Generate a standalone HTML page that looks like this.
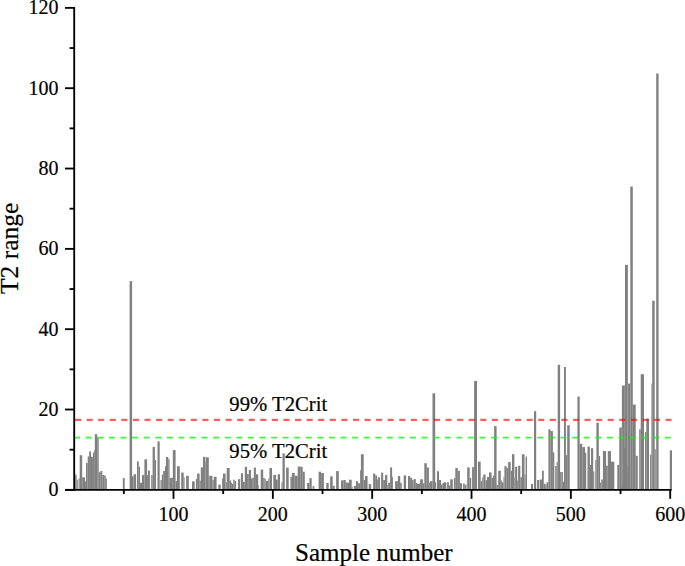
<!DOCTYPE html>
<html><head><meta charset="utf-8"><style>
html,body{margin:0;padding:0;background:#fff;overflow:hidden;}
body{width:685px;height:566px;font-family:"Liberation Serif",serif;}
svg{display:block;}
text{font-family:"Liberation Serif",serif;stroke:#000;stroke-width:0.2px;paint-order:stroke;}
</style></head><body>
<svg width="685" height="566" viewBox="0 0 685 566">
<g fill="#808080"><path d="M75.2 474.4h1.4V489h-1.4z"/><path d="M76.6 479.8h1.2V489h-1.2z"/><path d="M78.6 478.2h1.1V489h-1.1z"/><path d="M79.7 455.2h2.5V489h-2.5z"/><path d="M82.2 477.3h2.8V489h-2.8z"/><path d="M85 481.5h1V489h-1z"/><path d="M86 462.9h1.7V489h-1.7z"/><path d="M87.7 456.3h1.4V489h-1.4z"/><path d="M89.1 451.4h1.9V489h-1.9z"/><path d="M91 456.8h1.9V489h-1.9z"/><path d="M92.9 452.5h1.1V489h-1.1z"/><path d="M94 450.3h0.8V489h-0.8z"/><path d="M94.8 434.2h2.4V489h-2.4z"/><path d="M97.2 437.7h1.5V489h-1.5z"/><path d="M98.7 472.2h1.6V489h-1.6z"/><path d="M100.3 471h2V489h-2z"/><path d="M102.3 474.9h1.9V489h-1.9z"/><path d="M104.2 475.5h1.6V489h-1.6z"/><path d="M105.8 478.7h1.1V489h-1.1z"/><path d="M122.8 478.1h1.9V489h-1.9z"/><path d="M129.6 281.1h2.5V489h-2.5z"/><path d="M132 476.3h1.6V489h-1.6z"/><path d="M133.6 474.2h2.5V489h-2.5z"/><path d="M137 461.4h1.8V489h-1.8z"/><path d="M138.8 466.8h1.2V489h-1.2z"/><path d="M140 482.7h2V489h-2z"/><path d="M142 475h2.4V489h-2.4z"/><path d="M144.4 459.3h2.7V489h-2.7z"/><path d="M147.1 475h0.9V489h-0.9z"/><path d="M148 470.6h1.9V489h-1.9z"/><path d="M151.2 475h1.4V489h-1.4z"/><path d="M152.6 446.9h2.3V489h-2.3z"/><path d="M154.9 460h1.1V489h-1.1z"/><path d="M157.5 441.4h2.2V489h-2.2z"/><path d="M160.5 480h1.3V489h-1.3z"/><path d="M161.8 474.5h1.4V489h-1.4z"/><path d="M163.2 471h1.8V489h-1.8z"/><path d="M165 466.2h1V489h-1z"/><path d="M166 457h2.3V489h-2.3z"/><path d="M168.3 459.3h1.3V489h-1.3z"/><path d="M169.6 478.1h1.4V489h-1.4z"/><path d="M171 477.7h1.8V489h-1.8z"/><path d="M172.8 450.1h2.8V489h-2.8z"/><path d="M175.6 480.9h1.4V489h-1.4z"/><path d="M177 466.2h1V489h-1z"/><path d="M178 466.2h1.8V489h-1.8z"/><path d="M181.2 472.6h2.5V489h-2.5z"/><path d="M183.7 477.2h0.9V489h-0.9z"/><path d="M186.1 475.8h2.7V489h-2.7z"/><path d="M192 481.4h2.7V489h-2.7z"/><path d="M195.9 479h1.2V489h-1.2z"/><path d="M197.1 473.5h2.5V489h-2.5z"/><path d="M199.6 480.4h1.2V489h-1.2z"/><path d="M200.8 467.4h2.2V489h-2.2z"/><path d="M203 456.8h2.4V489h-2.4z"/><path d="M205.4 462h0.6V489h-0.6z"/><path d="M206 457.3h2.8V489h-2.8z"/><path d="M208.8 475.8h0.9V489h-0.9z"/><path d="M209.7 475.8h2.8V489h-2.8z"/><path d="M212.5 480h1.3V489h-1.3z"/><path d="M213.8 476.8h2.8V489h-2.8z"/><path d="M218.3 484.6h2.4V489h-2.4z"/><path d="M222.1 478.6h0.9V489h-0.9z"/><path d="M223 473.5h2.6V489h-2.6z"/><path d="M225.6 482.3h1.1V489h-1.1z"/><path d="M226.7 468h1.3V489h-1.3z"/><path d="M228 468h1.7V489h-1.7z"/><path d="M229.7 480.4h1.4V489h-1.4z"/><path d="M231.1 482.7h0.9V489h-0.9z"/><path d="M232 484.1h1.2V489h-1.2z"/><path d="M233.2 479.7h1.5V489h-1.5z"/><path d="M234.7 480.9h1.4V489h-1.4z"/><path d="M238 479.1h2.2V489h-2.2z"/><path d="M240.9 473.3h2.1V489h-2.1z"/><path d="M243 481.8h1.8V489h-1.8z"/><path d="M244.8 466.8h2.3V489h-2.3z"/><path d="M247.1 474h1.7V489h-1.7z"/><path d="M248.8 469.9h2.2V489h-2.2z"/><path d="M251 478.6h1.2V489h-1.2z"/><path d="M252.2 477.7h1.6V489h-1.6z"/><path d="M253.8 467.6h2.1V489h-2.1z"/><path d="M255.9 474.2h2.3V489h-2.3z"/><path d="M258.2 485h0.7V489h-0.7z"/><path d="M260.7 469.6h2.5V489h-2.5z"/><path d="M263.2 478.1h1.4V489h-1.4z"/><path d="M264.6 478.6h1.1V489h-1.1z"/><path d="M265.7 480.9h2.6V489h-2.6z"/><path d="M268.3 478.6h1.1V489h-1.1z"/><path d="M269.4 468h2.6V489h-2.6z"/><path d="M273.3 474.9h2.7V489h-2.7z"/><path d="M276 479.5h1.7V489h-1.7z"/><path d="M277.7 474.2h2.3V489h-2.3z"/><path d="M281.4 482.3h1.1V489h-1.1z"/><path d="M282.5 453.4h2.3V489h-2.3z"/><path d="M286.1 467.6h2.6V489h-2.6z"/><path d="M290.4 476.8h1.5V489h-1.5z"/><path d="M291.9 472.9h2.8V489h-2.8z"/><path d="M294.7 475.7h3V489h-3z"/><path d="M297.7 466.5h2.5V489h-2.5z"/><path d="M300.2 466.8h2.5V489h-2.5z"/><path d="M302.7 471.7h2.1V489h-2.1z"/><path d="M307.1 483h2.3V489h-2.3z"/><path d="M309.4 478.1h2.3V489h-2.3z"/><path d="M312.6 486.1h1.8V489h-1.8z"/><path d="M318.6 471.7h2.5V489h-2.5z"/><path d="M321.1 472.9h0.9V489h-0.9z"/><path d="M322 472.9h1.9V489h-1.9z"/><path d="M326.3 483h2.4V489h-2.4z"/><path d="M330.1 476.3h2.6V489h-2.6z"/><path d="M332.7 485.8h2V489h-2z"/><path d="M336.1 471.1h2.7V489h-2.7z"/><path d="M341 480.4h2.4V489h-2.4z"/><path d="M343.4 480h2.3V489h-2.3z"/><path d="M345.7 482.3h1.4V489h-1.4z"/><path d="M347.1 482.7h1.9V489h-1.9z"/><path d="M349 479.7h2.7V489h-2.7z"/><path d="M351.7 486.4h0.9V489h-0.9z"/><path d="M354 486h2V489h-2z"/><path d="M356 481.2h2.1V489h-2.1z"/><path d="M358.1 483.2h1.9V489h-1.9z"/><path d="M360 470.3h0.9V489h-0.9z"/><path d="M360.9 454.2h2.8V489h-2.8z"/><path d="M363.7 480h1.3V489h-1.3z"/><path d="M365 476h2.6V489h-2.6z"/><path d="M368.7 484.1h1.3V489h-1.3z"/><path d="M369.1 484.3h2.1V489h-2.1z"/><path d="M373.1 473.5h2.1V489h-2.1z"/><path d="M375.2 475.4h2V489h-2z"/><path d="M377.2 479.5h0.9V489h-0.9z"/><path d="M378.1 477.2h1.9V489h-1.9z"/><path d="M381.1 472.6h2.1V489h-2.1z"/><path d="M383.2 480h1.8V489h-1.8z"/><path d="M385 475.1h2.3V489h-2.3z"/><path d="M387.3 485h0.9V489h-0.9z"/><path d="M388.2 482.7h1.9V489h-1.9z"/><path d="M390.1 467.4h2V489h-2z"/><path d="M392.1 476.8h0.9V489h-0.9z"/><path d="M395.1 481.2h2.8V489h-2.8z"/><path d="M397.9 476h2.3V489h-2.3z"/><path d="M400.2 482.7h1.6V489h-1.6z"/><path d="M403.7 475.4h2.4V489h-2.4z"/><path d="M408 476h2.1V489h-2.1z"/><path d="M410.1 477.7h2V489h-2z"/><path d="M412.1 480h1.4V489h-1.4z"/><path d="M413.5 479.1h2.3V489h-2.3z"/><path d="M415.8 483h1.2V489h-1.2z"/><path d="M417 483.7h3.1V489h-3.1z"/><path d="M420.1 479.3h2.8V489h-2.8z"/><path d="M422.9 483.2h1.4V489h-1.4z"/><path d="M424.3 463.2h2.5V489h-2.5z"/><path d="M426.8 467.4h2.1V489h-2.1z"/><path d="M428.9 482.7h0.9V489h-0.9z"/><path d="M429.8 481.2h2.7V489h-2.7z"/><path d="M432.5 393.3h2.7V489h-2.7z"/><path d="M435.1 482.3h1.1V489h-1.1z"/><path d="M437 471.3h2V489h-2z"/><path d="M439 480h2V489h-2z"/><path d="M441 484.6h1.5V489h-1.5z"/><path d="M442.5 482.7h1.5V489h-1.5z"/><path d="M444 482.3h2.3V489h-2.3z"/><path d="M447.1 482.3h1.8V489h-1.8z"/><path d="M448.9 485.5h1.3V489h-1.3z"/><path d="M450.2 479.3h2.6V489h-2.6z"/><path d="M453.9 478.1h1.4V489h-1.4z"/><path d="M455.3 468h2.5V489h-2.5z"/><path d="M457.8 470.8h2.1V489h-2.1z"/><path d="M459.9 483.2h2.1V489h-2.1z"/><path d="M463.1 483.4h1.6V489h-1.6z"/><path d="M464.7 485h1.3V489h-1.3z"/><path d="M466 483.9h0.5V489h-0.5z"/><path d="M467.2 467.4h2.5V489h-2.5z"/><path d="M469.7 477.9h1.5V489h-1.5z"/><path d="M472.1 467.1h2V489h-2z"/><path d="M474.1 381h2.9V489h-2.9z"/><path d="M478 461.6h2.7V489h-2.7z"/><path d="M480.7 481.2h1.5V489h-1.5z"/><path d="M482.2 477.2h1.1V489h-1.1z"/><path d="M483.3 474.5h2.3V489h-2.3z"/><path d="M485.6 480.3h1.4V489h-1.4z"/><path d="M487 477h2V489h-2z"/><path d="M489 472.4h2.6V489h-2.6z"/><path d="M491.6 477.7h1.4V489h-1.4z"/><path d="M493 475.4h1.1V489h-1.1z"/><path d="M494.1 426.1h2.5V489h-2.5z"/><path d="M496.6 485h1.6V489h-1.6z"/><path d="M498.2 470.8h2.6V489h-2.6z"/><path d="M500.8 480.4h1.1V489h-1.1z"/><path d="M501.9 482.3h1.6V489h-1.6z"/><path d="M503.5 476.8h0.9V489h-0.9z"/><path d="M504.4 466.2h2.3V489h-2.3z"/><path d="M506.7 468h1.4V489h-1.4z"/><path d="M508.1 462.1h2.3V489h-2.3z"/><path d="M510.4 462h0.5V489h-0.5z"/><path d="M510.9 470.8h1.1V489h-1.1z"/><path d="M512 454.2h2.4V489h-2.4z"/><path d="M514.4 477.7h0.7V489h-0.7z"/><path d="M515.1 466.7h2.1V489h-2.1z"/><path d="M517.2 480.4h0.9V489h-0.9z"/><path d="M518.1 465.7h2.2V489h-2.2z"/><path d="M520.3 477.2h1.6V489h-1.6z"/><path d="M521.9 454.2h2.6V489h-2.6z"/><path d="M524.5 474.5h1.1V489h-1.1z"/><path d="M525.6 456.4h1.4V489h-1.4z"/><path d="M531 484.1h2V489h-2z"/><path d="M534 411.2h2.2V489h-2.2z"/><path d="M537.1 480h2.3V489h-2.3z"/><path d="M540 479.6h2V489h-2z"/><path d="M542 470.8h1.8V489h-1.8z"/><path d="M543.8 483.7h1.6V489h-1.6z"/><path d="M545.4 484.4h1.1V489h-1.1z"/><path d="M546.5 482.3h1.9V489h-1.9z"/><path d="M548.4 429.3h2.2V489h-2.2z"/><path d="M550.6 431h2.3V489h-2.3z"/><path d="M552.9 452.4h1.4V489h-1.4z"/><path d="M555.2 466h1.4V489h-1.4z"/><path d="M556.6 462h1.1V489h-1.1z"/><path d="M557.7 364.8h2.4V489h-2.4z"/><path d="M560.1 471.9h1.4V489h-1.4z"/><path d="M561.5 472.1h1.4V489h-1.4z"/><path d="M562.9 481.7h1.1V489h-1.1z"/><path d="M564 367.1h1.9V489h-1.9z"/><path d="M565.9 455.1h1.3V489h-1.3z"/><path d="M567.2 425.2h2.5V489h-2.5z"/><path d="M577.4 396.5h2.3V489h-2.3z"/><path d="M579.7 443.8h2.6V489h-2.6z"/><path d="M582.3 447.1h2.7V489h-2.7z"/><path d="M585 452.8h1.2V489h-1.2z"/><path d="M587.5 446.6h2.4V489h-2.4z"/><path d="M589.9 465h1.1V489h-1.1z"/><path d="M591 448.2h2.2V489h-2.2z"/><path d="M593.2 471.4h1.1V489h-1.1z"/><path d="M595.3 460h1.1V489h-1.1z"/><path d="M596.4 422.7h2.4V489h-2.4z"/><path d="M598.8 456h1.3V489h-1.3z"/><path d="M600.1 482.8h1.2V489h-1.2z"/><path d="M601.3 479.5h1.6V489h-1.6z"/><path d="M602.9 451.1h3.2V489h-3.2z"/><path d="M606.1 465.7h1.7V489h-1.7z"/><path d="M607.8 451.1h3.2V489h-3.2z"/><path d="M611 461.7h3.3V489h-3.3z"/><path d="M612 462.3h1.8V489h-1.8z"/><path d="M617.3 464.8h2V489h-2z"/><path d="M619.3 427.5h2.6V489h-2.6z"/><path d="M621.9 385.5h3.1V489h-3.1z"/><path d="M625 264.8h2.9V489h-2.9z"/><path d="M627.9 383.6h2.4V489h-2.4z"/><path d="M630.3 186.6h2.5V489h-2.5z"/><path d="M632.8 404.6h2.9V489h-2.9z"/><path d="M635.7 455.8h2.1V489h-2.1z"/><path d="M639.2 429.2h1.5V489h-1.5z"/><path d="M640.7 374.2h3.3V489h-3.3z"/><path d="M645 432.1h1.3V489h-1.3z"/><path d="M646.3 418.7h2.7V489h-2.7z"/><path d="M650.1 454.4h1.3V489h-1.3z"/><path d="M651.4 383.5h0.8V489h-0.8z"/><path d="M652.2 300.8h2.5V489h-2.5z"/><path d="M654.7 449.3h1.1V489h-1.1z"/><path d="M656.2 73.5h2.4V489h-2.4z"/><path d="M669.8 450.3h2.2V489h-2.2z"/></g>
<rect x="621.7" y="427.5" width="0.80" height="57.50" fill="#a0a0a0"/>
<rect x="624.5" y="385.5" width="0.80" height="62.50" fill="#a0a0a0"/>
<rect x="627.3" y="384" width="0.90" height="82.00" fill="#a0a0a0"/>
<g shape-rendering="auto">
<line x1="75" y1="419.9" x2="671.5" y2="419.9" stroke="#ff0000" stroke-opacity="0.64" stroke-width="2.1" stroke-dasharray="6.1 5.48"/>
<line x1="74.2" y1="437.6" x2="671" y2="437.6" stroke="#00ff00" stroke-opacity="0.8" stroke-width="1.9" stroke-dasharray="5.9 5.68"/>
</g>
<g stroke="#000" stroke-width="1.85" fill="none" shape-rendering="auto">
<line x1="74.2" y1="7" x2="74.2" y2="490.8"/>
<line x1="65" y1="489.85" x2="671.8" y2="489.85"/>
<line x1="65.00" y1="489.85" x2="74.2" y2="489.85"/>
<line x1="69.60" y1="449.69" x2="74.2" y2="449.69"/>
<line x1="65.00" y1="409.52" x2="74.2" y2="409.52"/>
<line x1="69.60" y1="369.36" x2="74.2" y2="369.36"/>
<line x1="65.00" y1="329.19" x2="74.2" y2="329.19"/>
<line x1="69.60" y1="289.03" x2="74.2" y2="289.03"/>
<line x1="65.00" y1="248.86" x2="74.2" y2="248.86"/>
<line x1="69.60" y1="208.70" x2="74.2" y2="208.70"/>
<line x1="65.00" y1="168.53" x2="74.2" y2="168.53"/>
<line x1="69.60" y1="128.37" x2="74.2" y2="128.37"/>
<line x1="65.00" y1="88.20" x2="74.2" y2="88.20"/>
<line x1="69.60" y1="48.04" x2="74.2" y2="48.04"/>
<line x1="65.00" y1="7.87" x2="74.2" y2="7.87"/>
<line x1="123.83" y1="489.85" x2="123.83" y2="494.05"/>
<line x1="173.50" y1="489.85" x2="173.50" y2="498.85"/>
<line x1="223.17" y1="489.85" x2="223.17" y2="494.05"/>
<line x1="272.84" y1="489.85" x2="272.84" y2="498.85"/>
<line x1="322.51" y1="489.85" x2="322.51" y2="494.05"/>
<line x1="372.18" y1="489.85" x2="372.18" y2="498.85"/>
<line x1="421.85" y1="489.85" x2="421.85" y2="494.05"/>
<line x1="471.52" y1="489.85" x2="471.52" y2="498.85"/>
<line x1="521.19" y1="489.85" x2="521.19" y2="494.05"/>
<line x1="570.86" y1="489.85" x2="570.86" y2="498.85"/>
<line x1="620.53" y1="489.85" x2="620.53" y2="494.05"/>
<line x1="670.20" y1="489.85" x2="670.20" y2="498.85"/>
</g>
<g font-family="Liberation Serif" font-size="20" fill="#000">
<text x="58.5" y="496.35" text-anchor="end">0</text>
<text x="58.5" y="416.02" text-anchor="end">20</text>
<text x="58.5" y="335.69" text-anchor="end">40</text>
<text x="58.5" y="255.36" text-anchor="end">60</text>
<text x="58.5" y="175.03" text-anchor="end">80</text>
<text x="58.5" y="94.70" text-anchor="end">100</text>
<text x="58.5" y="14.37" text-anchor="end">120</text>
<text x="173.50" y="521.2" text-anchor="middle">100</text>
<text x="272.84" y="521.2" text-anchor="middle">200</text>
<text x="372.18" y="521.2" text-anchor="middle">300</text>
<text x="471.52" y="521.2" text-anchor="middle">400</text>
<text x="570.86" y="521.2" text-anchor="middle">500</text>
<text x="670.20" y="521.2" text-anchor="middle">600</text>
</g>
<text x="229.3" y="411.4" font-family="Liberation Serif" font-size="20.7">99% T2Crit</text>
<text x="229.3" y="458.2" font-family="Liberation Serif" font-size="20.7">95% T2Crit</text>
<text x="295" y="560.5" font-family="Liberation Serif" font-size="25">Sample number</text>
<text transform="translate(17.6 294) rotate(-90)" font-family="Liberation Serif" font-size="25.5">T2 range</text>
</svg>
</body></html>
